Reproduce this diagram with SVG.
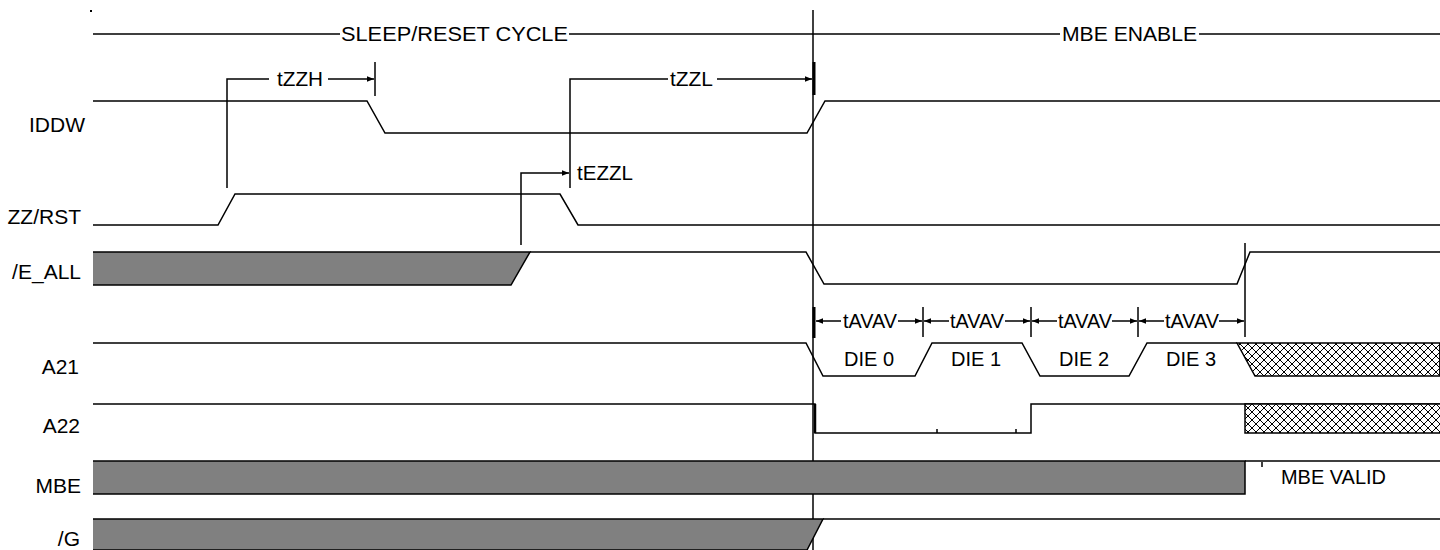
<svg xmlns="http://www.w3.org/2000/svg" width="1440" height="550" viewBox="0 0 1440 550">
<style>
.s{fill:none;stroke:#000;stroke-width:1.5}
.g{fill:#808080;stroke:#000;stroke-width:1.5}
.h{fill:url(#hatch);stroke:#000;stroke-width:1.5}
.t{font-family:"Liberation Sans",Arial,sans-serif;font-size:21px;fill:#000}
.l{font-family:"Liberation Sans",Arial,sans-serif;font-size:21px;fill:#000;text-anchor:end}
.c{font-family:"Liberation Sans",Arial,sans-serif;font-size:20px;fill:#000;text-anchor:middle}
</style>
<defs>
<marker id="ae" viewBox="0 0 10 10" refX="10" refY="5" markerWidth="7" markerHeight="7" markerUnits="userSpaceOnUse" orient="auto"><path d="M0,1 L10,5 L0,9 Z" fill="#000"/></marker>
<marker id="as" viewBox="0 0 10 10" refX="0" refY="5" markerWidth="7" markerHeight="7" markerUnits="userSpaceOnUse" orient="auto"><path d="M10,1 L0,5 L10,9 Z" fill="#000"/></marker>
<pattern id="hatch" patternUnits="userSpaceOnUse" x="0" y="0" width="8" height="8"><rect width="8" height="8" fill="#fff"/><path d="M0,0 L8,8 M8,0 L0,8" stroke="#000" stroke-width="1"/></pattern>
</defs>
<rect width="1440" height="550" fill="#fff"/>

<g id="header">
<rect x="90" y="10" width="2" height="2" fill="#000"/>
<path class="s" d="M93,34 H340 M569,34 H1060 M1199,34 H1440"/>
<text class="t" x="341" y="41" textLength="227" lengthAdjust="spacingAndGlyphs">SLEEP/RESET CYCLE</text>
<text class="t" x="1062" y="41" textLength="135" lengthAdjust="spacingAndGlyphs">MBE ENABLE</text>
</g>

<g id="divider">
<path class="s" d="M813,10 V550"/>
</g>

<g id="IDDW">
<text class="l" x="85" y="132">IDDW</text>
<path class="s" d="M93,101 H367 L385,133 H807 L825,101 H1440"/>
</g>

<g id="ZZRST">
<text class="l" x="81" y="224">ZZ/RST</text>
<path class="s" d="M93,225 H218 L235,194 H560 L578,225 H1440"/>
</g>

<g id="E_ALL">
<text class="l" x="81" y="279">/E_ALL</text>
<path class="g" d="M93,252 H530 L511,285 H93"/>
<path class="s" d="M530,252 H806 L824,284 H1237 L1250,252 H1440"/>
</g>

<g id="A21">
<text class="l" x="79" y="374">A21</text>
<path class="s" d="M93,343 H806 L823,376 H915 L932,343 H1022 L1040,376 H1129 L1147,343 H1237"/>
<path class="h" d="M1237,343 H1440 V376 H1255 Z"/>
<path class="s" d="M1440,343 V376" stroke="#fff"/>
<text class="c" x="869" y="366">DIE 0</text>
<text class="c" x="976" y="366">DIE 1</text>
<text class="c" x="1084" y="366">DIE 2</text>
<text class="c" x="1191" y="366">DIE 3</text>
</g>

<g id="A22">
<text class="l" x="80" y="433">A22</text>
<path class="s" d="M93,404 H815 V433 H1031 V404 H1440"/>
<path d="M815,404 V433" stroke="#000" stroke-width="2.5"/>
<path class="s" d="M937,429 V433 M1016,429 V433"/>
<path class="h" d="M1440,404 H1245 V433 H1440"/>
</g>

<g id="MBE">
<text class="l" x="81" y="493">MBE</text>
<path class="g" d="M93,461 H1245 V494 H93"/>
<path class="s" d="M1245,461 H1440 M1262,462 V467"/>
<text class="t" x="1281" y="484" textLength="105" lengthAdjust="spacingAndGlyphs">MBE VALID</text>
</g>

<g id="G">
<text class="l" x="80" y="546">/G</text>
<path class="g" d="M93,519 H823 L807,550 H93"/>
<path class="s" d="M823,519 H1440"/>
</g>

<g id="connectors">
<!-- tZZH -->
<path class="s" d="M227,188 V79 H269"/>
<text class="t" x="277" y="86" textLength="46" lengthAdjust="spacingAndGlyphs">tZZH</text>
<path class="s" d="M328,79 H374" marker-end="url(#ae)"/>
<path class="s" d="M375,62 V96"/>
<!-- tZZL -->
<path class="s" d="M570,188 V79 H668"/>
<text class="t" x="670" y="86" textLength="43" lengthAdjust="spacingAndGlyphs">tZZL</text>
<path class="s" d="M717,79 H812" marker-end="url(#ae)"/>
<path d="M814,62 V95" stroke="#000" stroke-width="3"/>
<!-- tEZZL -->
<path class="s" d="M521,245 V173 H569" marker-end="url(#ae)"/>
<text class="t" x="577" y="180" textLength="56" lengthAdjust="spacingAndGlyphs">tEZZL</text>
<!-- tAVAV -->
<path d="M814,307 V338" stroke="#000" stroke-width="3"/>
<path class="s" d="M923,307 V337 M1031,307 V337 M1138,307 V337 M1245,243 V337"/>
<path class="s" d="M816,321 H841" marker-start="url(#as)"/>
<path class="s" d="M898,321 H922" marker-end="url(#ae)"/>
<text class="c" x="870" y="328" textLength="54" lengthAdjust="spacingAndGlyphs">tAVAV</text>
<path class="s" d="M924,321 H949" marker-start="url(#as)"/>
<path class="s" d="M1005,321 H1030" marker-end="url(#ae)"/>
<text class="c" x="977" y="328" textLength="54" lengthAdjust="spacingAndGlyphs">tAVAV</text>
<path class="s" d="M1032,321 H1057" marker-start="url(#as)"/>
<path class="s" d="M1112,321 H1137" marker-end="url(#ae)"/>
<text class="c" x="1085" y="328" textLength="54" lengthAdjust="spacingAndGlyphs">tAVAV</text>
<path class="s" d="M1139,321 H1164" marker-start="url(#as)"/>
<path class="s" d="M1219,321 H1244" marker-end="url(#ae)"/>
<text class="c" x="1192" y="328" textLength="54" lengthAdjust="spacingAndGlyphs">tAVAV</text>
</g>
</svg>
